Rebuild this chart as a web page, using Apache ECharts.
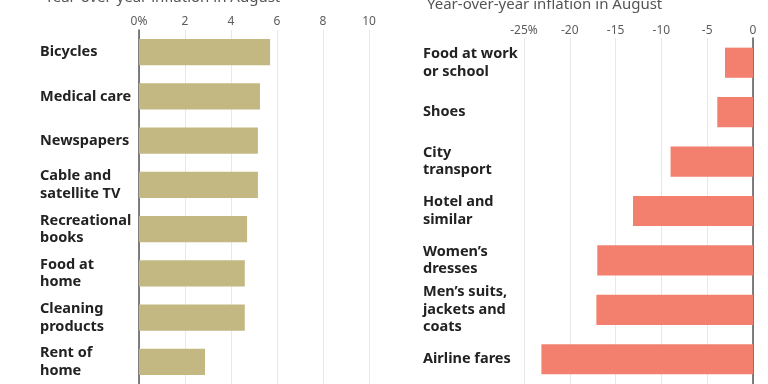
<!DOCTYPE html>
<html>
<head>
<meta charset="utf-8">
<script src="https://cdn.jsdelivr.net/npm/echarts@6/dist/echarts.min.js"></script>
<style>html,body{margin:0;padding:0;background:#fff;}#c{width:768px;height:384px;}</style>
</head>
<body>
<div id="c"></div>
<script>
var leftTitle = 'Year-over-year inflation in August';
var rightTitle = 'Year-over-year inflation in August';
var leftCategories = ['Bicycles', 'Medical care', 'Newspapers', 'Cable and\nsatellite TV', 'Recreational\nbooks', 'Food at\nhome', 'Cleaning\nproducts', 'Rent of\nhome'];
var leftValues = [5.7, 5.26, 5.17, 5.17, 4.7, 4.6, 4.6, 2.87];
var leftTicks = [0, 2, 4, 6, 8, 10];
var rightCategories = ['Food at work\nor school', 'Shoes', 'City\ntransport', 'Hotel and\nsimilar', 'Women\u2019s\ndresses', 'Men\u2019s suits,\njackets and\ncoats', 'Airline fares'];
var rightValues = [-3.06, -3.9, -9.0, -13.1, -17.0, -17.1, -23.1];
var rightTicks = [-25, -20, -15, -10, -5, 0];

var FONT = '"Noto Sans", "Open Sans", sans-serif';
var chart = echarts.init(document.getElementById('c'));
function fmt(first) {
  return function (v) { return v === first ? v + '%' : String(v); };
}
var labelStyle = { color: '#222', fontSize: 14.5, fontWeight: 'bold', fontFamily: FONT, lineHeight: 17.5, align: 'left', padding: [8, 0, 0, 0] };
var tickStyle = { color: '#5c5c5c', fontSize: 12, fontFamily: FONT };
chart.setOption({
  animation: false,
  title: [
    { text: leftTitle, left: 40, top: -15, textStyle: { color: '#555', fontSize: 15, fontWeight: 'normal', fontFamily: FONT } },
    { text: rightTitle, left: 422, top: -8, textStyle: { color: '#555', fontSize: 15, fontWeight: 'normal', fontFamily: FONT } }
  ],
  grid: [
    { left: 139, top: 30, width: 230, height: 354 },
    { left: 524, top: 38, width: 229, height: 354 }
  ],
  xAxis: [
    { gridIndex: 0, type: 'value', position: 'top', min: leftTicks[0], max: leftTicks[leftTicks.length - 1], interval: 2,
      axisLine: { show: false }, axisTick: { show: false },
      axisLabel: Object.assign({ margin: 2, formatter: fmt(leftTicks[0]) }, tickStyle),
      splitLine: { lineStyle: { color: '#e8e8e8', width: 1 } } },
    { gridIndex: 1, type: 'value', position: 'top', min: rightTicks[0], max: rightTicks[rightTicks.length - 1], interval: 5,
      axisLine: { show: false }, axisTick: { show: false },
      axisLabel: Object.assign({ margin: 1, formatter: fmt(rightTicks[0]) }, tickStyle),
      splitLine: { lineStyle: { color: '#e8e8e8', width: 1 } } }
  ],
  yAxis: [
    { gridIndex: 0, type: 'category', inverse: true, data: leftCategories,
      axisLine: { show: true, onZero: true, lineStyle: { color: '#555', width: 1.5 } }, axisTick: { show: false },
      axisLabel: Object.assign({ margin: 99 }, labelStyle) },
    { gridIndex: 1, type: 'category', inverse: true, data: rightCategories,
      axisLine: { show: true, onZero: true, lineStyle: { color: '#555', width: 1.5 } }, axisTick: { show: false },
      axisLabel: Object.assign({ margin: 101 }, labelStyle) }
  ],
  series: [
    { type: 'bar', xAxisIndex: 0, yAxisIndex: 0, data: leftValues, barCategoryGap: '41%', itemStyle: { color: '#c3b881' }, silent: true },
    { type: 'bar', xAxisIndex: 1, yAxisIndex: 1, data: rightValues, barCategoryGap: '39%', itemStyle: { color: '#f3806f' }, silent: true }
  ]
});
</script>
</body>
</html>
